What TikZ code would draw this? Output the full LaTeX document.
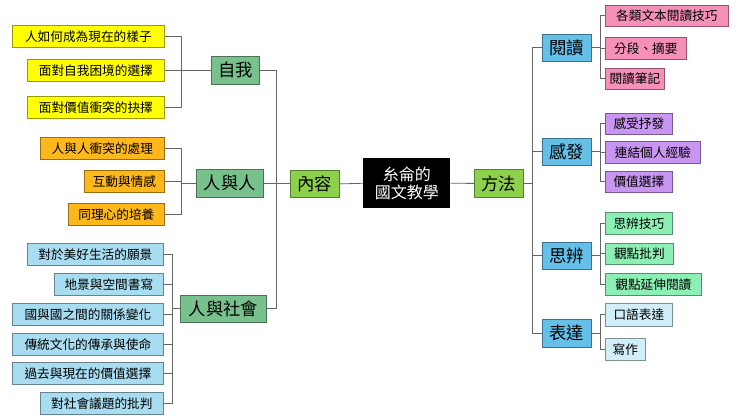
\documentclass[tikz,border=0pt]{standalone}
\usepackage{fontspec}
\setmainfont{Noto Sans CJK TC}
\begin{document}
\begin{tikzpicture}[x=0.75pt,y=-0.75pt,
 box/.style={draw=#1!60!black,line width=0.6pt,inner sep=0pt,font=\fontsize{9.5}{11}\selectfont},
 big/.style={font=\fontsize{13}{15}\selectfont},
 ln/.style={draw=gray!80!black,line width=0.6pt}]
\definecolor{cy}{HTML}{FFFF00}\definecolor{co}{HTML}{FFB81C}\definecolor{cb}{HTML}{A8DCF0}
\definecolor{cg}{HTML}{78C08C}\definecolor{cn}{HTML}{8CD04C}\definecolor{cm}{HTML}{64C0E8}
\definecolor{cp}{HTML}{F590B8}\definecolor{cv}{HTML}{C896F0}\definecolor{ct}{HTML}{8CF0B4}
\definecolor{cl}{HTML}{D2EEF8}
\useasboundingbox (0,0) rectangle (740,416);
\fill[white] (0,0) rectangle (740,416);
\newcommand\bx[7]{\node[box=#6,fill=#6,minimum width={(#4-#2)*0.75pt},minimum height={(#5-#3)*0.75pt},anchor=north west,#7] (#1) at (#2,#3)}
% left
\bx{y1}{12}{25}{164}{47}{cy}{}{人如何成為現在的樣子};
\bx{y2}{27}{59}{164}{81}{cy}{}{面對自我困境的選擇};
\bx{y3}{27}{96}{164}{118}{cy}{}{面對價值衝突的抉擇};
\bx{zw}{211}{56}{259}{84}{cg}{big}{自我};
\bx{o1}{40}{137}{164}{159}{co}{}{人與人衝突的處理};
\bx{o2}{84}{170}{164}{192}{co}{}{互動與情感};
\bx{o3}{68}{203}{164}{225}{co}{}{同理心的培養};
\bx{rr}{196}{169}{263}{197}{cg}{big}{人與人};
\bx{b1}{27}{243}{163}{265}{cb}{}{對於美好生活的願景};
\bx{b2}{54}{273}{163}{295}{cb}{}{地景與空間書寫};
\bx{b3}{12}{303}{163}{325}{cb}{}{國與國之間的關係變化};
\bx{b4}{12}{333}{163}{355}{cb}{}{傳統文化的傳承與使命};
\bx{b5}{12}{362}{163}{384}{cb}{}{過去與現在的價值選擇};
\bx{b6}{40}{392}{163}{414}{cb}{}{對社會議題的批判};
\bx{rs}{180}{295}{266}{322}{cg}{big}{人與社會};
\bx{nr}{290}{170}{339}{197}{cn}{big}{內容};
\node[fill=black,text=white,minimum width=65.25pt,minimum height=37.5pt,anchor=north west,inner sep=0pt,align=center,font=\fontsize{12}{14}\selectfont] (c) at (363,158) {糸侖的\\國文教學};
\bx{ff}{474}{169}{523}{197}{cn}{big}{方法};
% right
\bx{r1}{542}{34}{591}{61}{cm}{big}{閱讀};
\bx{r2}{542}{138}{591}{165}{cm}{big}{感發};
\bx{r3}{542}{242}{591}{269}{cm}{big}{思辨};
\bx{r4}{542}{319}{591}{347}{cm}{big}{表達};
\bx{p1}{605}{5}{728}{26}{cp}{}{各類文本閱讀技巧};
\bx{p2}{605}{37}{686}{59}{cp}{}{分段、摘要};
\bx{p3}{605}{68}{664}{89}{cp}{}{閱讀筆記};
\bx{v1}{605}{113}{672}{134}{cv}{}{感受抒發};
\bx{v2}{605}{141}{700}{163}{cv}{}{連結個人經驗};
\bx{v3}{605}{171}{672}{192}{cv}{}{價值選擇};
\bx{g1}{605}{212}{672}{234}{ct}{}{思辨技巧};
\bx{g2}{605}{243}{673}{264}{ct}{}{觀點批判};
\bx{g3}{605}{273}{701}{295}{ct}{}{觀點延伸閱讀};
\bx{l1}{605}{303}{672}{326}{cl}{}{口語表達};
\bx{l2}{605}{338}{645}{360}{cl}{}{寫作};
% buses
\coordinate (bA) at (181,0);\coordinate (bB) at (172,0);\coordinate (bC) at (276,0);
\coordinate (bD) at (532,0);\coordinate (bE) at (600,0);
\foreach \c in {y1,y2,y3} \draw[ln] (\c.east) -| (bA |- zw.west) -- (zw.west);
\foreach \c in {o1,o2,o3} \draw[ln] (\c.east) -| (bA |- rr.west) -- (rr.west);
\foreach \c in {b1,b2,b3,b4,b5,b6} \draw[ln] (\c.east) -| (bB |- rs.west) -- (rs.west);
\foreach \c in {zw,rr,rs} \draw[ln] (\c.east) -| (bC |- nr.west) -- (nr.west);
\draw[ln] (nr.east) -- (c.west);
\draw[ln] (c.east) -- (ff.west);
\foreach \c in {r1,r2,r3,r4} \draw[ln] (ff.east) -| (bD |- \c.west) -- (\c.west);
\foreach \c in {p1,p2,p3} \draw[ln] (r1.east) -| (bE |- \c.west) -- (\c.west);
\foreach \c in {v1,v2,v3} \draw[ln] (r2.east) -| (bE |- \c.west) -- (\c.west);
\foreach \c in {g1,g2,g3} \draw[ln] (r3.east) -| (bE |- \c.west) -- (\c.west);
\foreach \c in {l1,l2} \draw[ln] (r4.east) -| (bE |- \c.west) -- (\c.west);
\end{tikzpicture}
\end{document}
